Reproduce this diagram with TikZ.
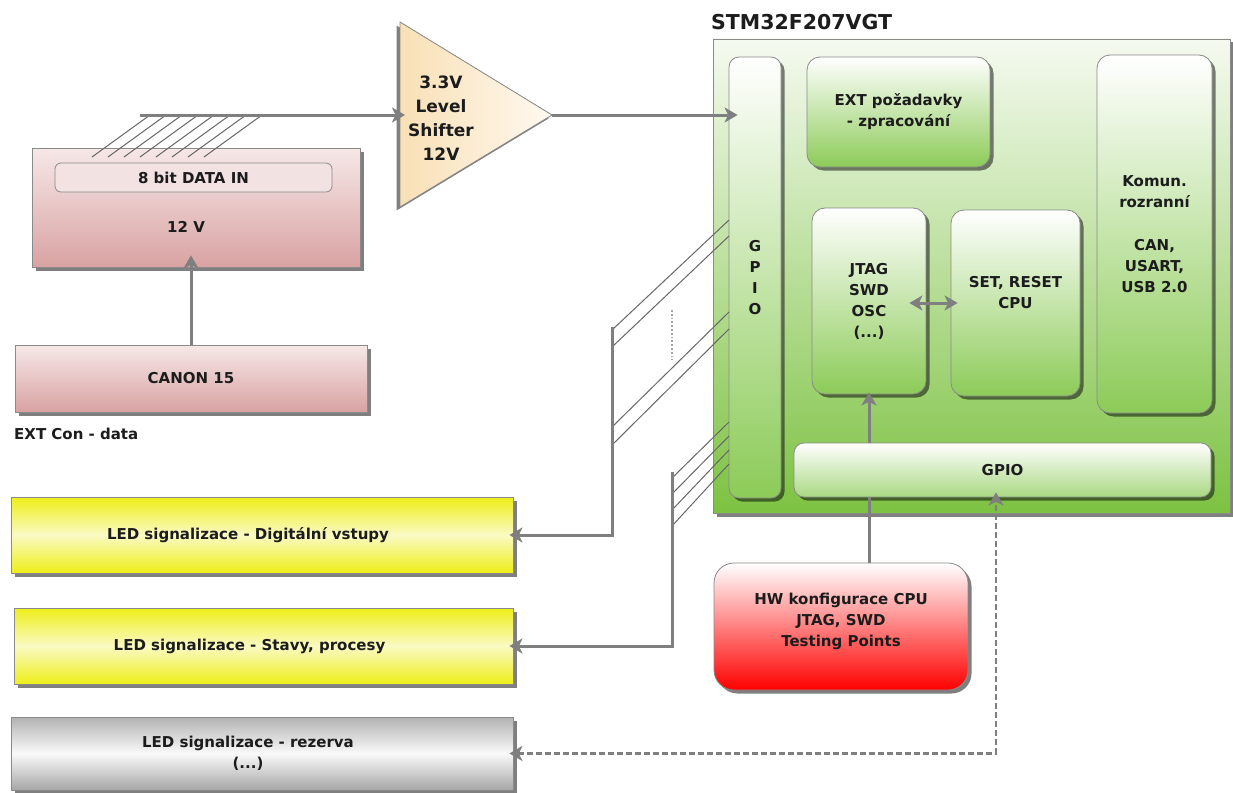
\documentclass[tikz,border=0pt]{standalone}
\usepackage{fontspec}
\setmainfont{DejaVu Sans}
\usetikzlibrary{arrows.meta,shadows,calc}
\definecolor{conng}{HTML}{7F7F7F}
\definecolor{boxgray}{HTML}{8A8A8A}
\definecolor{txt}{HTML}{1C1C1C}
\definecolor{pinktop}{HTML}{F6E8E8}
\definecolor{pinkbot}{HTML}{D9A2A2}
\definecolor{pinkin}{HTML}{F3E2E2}
\definecolor{greenbg}{HTML}{7DC242}
\definecolor{greentop}{HTML}{F5FAF0}
\definecolor{greenin}{HTML}{8CCB58}
\definecolor{greenlt}{HTML}{A9D883}
\definecolor{ledy}{HTML}{EEEE18}
\definecolor{ledlt}{HTML}{FAFAC4}
\definecolor{graytop}{HTML}{B2B2B2}
\definecolor{graybot}{HTML}{A6A6A6}
\definecolor{triL}{HTML}{F8E0B6}
\definecolor{triR}{HTML}{FFF9F0}
\definecolor{hatchg}{HTML}{666666}
\newcommand\lbl{\bfseries\fontsize{15}{21}\selectfont}
\tikzset{
  base/.style={draw=boxgray, line width=0.8pt, font=\lbl, text=txt, align=center, inner sep=0pt},
  shad/.style={drop shadow={shadow xshift=3.5pt, shadow yshift=-3.5pt, opacity=0.5, fill=black}},
  pinkbox/.style={base, shad, top color=pinktop, bottom color=pinkbot},
  greenbox/.style={base, shad, rounded corners=13pt, top color=white, bottom color=greenin},
  ledbox/.style={base, shad, top color=ledy, bottom color=ledy, middle color=ledlt},
  graybox/.style={base, shad, top color=graytop, bottom color=graybot, middle color=white!96!gray},
  >={Stealth[length=13pt,width=15pt,inset=3.5pt]},
  conn/.style={draw=conng, line width=3pt, ->},
  hatch/.style={draw=hatchg, line width=1pt},
}
\begin{document}
\begin{tikzpicture}[x=1pt,y=-1pt]
\useasboundingbox (0,0) rectangle (1233,792);

% ---- STM32 block
\node[base, shad, top color=greentop, bottom color=greenbg, minimum width=517pt, minimum height=474pt] (mcu) at (971.5,276) {};
\node[font=\bfseries\fontsize{20.5}{24}\selectfont, text=txt, anchor=west, inner sep=0pt] (title) at (711,22) {STM32F207VGT};

\node[greenbox, rounded corners=10pt, minimum width=52pt, minimum height=441pt] (gpioV) at (755,277.5) {G\\P\\I\\O};
\node[greenbox, minimum width=183pt, minimum height=110pt] (ext) at (898.5,112) {EXT požadavky\\- zpracování};
\node[greenbox, minimum width=115pt, minimum height=358pt] (komun) at (1154.5,234) {Komun.\\rozranní\\[22pt]CAN,\\USART,\\USB 2.0};
\node[greenbox, minimum width=114pt, minimum height=186pt] (jtag) at (869,301) {JTAG\\SWD\\OSC\\(...)};
\node[greenbox, minimum width=129pt, minimum height=186pt] (set) at (1015.5,303) {SET, RESET\\CPU\\[0pt]};
\node[greenbox, rounded corners=10pt, bottom color=greenlt, minimum width=417pt, minimum height=54pt] (gpioH) at (1002.5,470) {GPIO};

% ---- HW config
\node[base, shad, rounded corners=20pt, top color=white, bottom color=red, minimum width=254pt, minimum height=127pt] (hw) at (841,626.5) {HW konfigurace CPU\\JTAG, SWD\\Testing Points\\[-8pt]};

% ---- LED boxes
\node[ledbox, minimum width=502pt, minimum height=76pt] (led1) at (262,535) {LED signalizace - Digitální vstupy\hspace*{28pt}};
\node[ledbox, minimum width=499pt, minimum height=76pt] (led2) at (263.5,646) {LED signalizace - Stavy, procesy\hspace*{28pt}};
\node[graybox, minimum width=502pt, minimum height=73pt] (led3) at (262,753.5) {LED signalizace - rezerva\hspace*{28pt}\\(...)\hspace*{28pt}};

% ---- EXT connector side
\node[pinkbox, minimum width=328pt, minimum height=119pt] (box12V) at (196,207.5) {};
\node[base, fill=pinkin, rounded corners=6pt, minimum width=277pt, minimum height=29pt] (data8) at (193.5,177.5) {8 bit DATA IN};
\node[font=\lbl, text=txt, inner sep=0pt] (v12) at (186,227) {12 V};
\node[pinkbox, minimum width=352pt, minimum height=67pt] (canon) at (191,378.5) {CANON 15};
\node[font=\lbl, text=txt, anchor=west, inner sep=0pt] (extcon) at (14,434) {EXT Con - data};

% ---- level shifter
\coordinate (trin) at (400,115);
\coordinate (trout) at (552,115);
\filldraw[draw=boxgray, line width=0.8pt, left color=triL, right color=triR,
  drop shadow={shadow xshift=-3.5pt, shadow yshift=-3.5pt, opacity=0.5, fill=black}]
  (400,22) -- (trout) -- (400,207) -- cycle;
\node[font=\bfseries\fontsize{17}{24}\selectfont, text=txt, align=center, inner sep=0pt] (shiftlbl) at (441,118) {3.3V\\Level\\Shifter\\12V};

% ---- input data bus
\coordinate (busstart) at (140,115);
\foreach \i in {0,...,7} \draw[hatch] ({150+16*\i},115) -- ({92+16*\i},157);
\draw[conn] (busstart) -- ($(trin)+(5,0)$);
\draw[conn] (trout) -- ($(trout -| gpioV.west)+(9,0)$);
\draw[conn] (canon.north) -- ($(canon.north |- box12V.south)+(0,-12)$);

% ---- GPIO bus 1 -> LED 1
\coordinate (b1top) at (612,327);
\draw[hatch] (612,330) -- (729,220);
\draw[hatch] (612,347) -- (729,236);
\draw[hatch] (612,427) -- (729,312);
\draw[hatch] (612,445) -- (729,329);
\draw[conng!70, line width=1.8pt, dotted] (672,310) -- (672,360);
\draw[conn] (b1top) |- ($(led1.east)+(-4,0)$);

% ---- GPIO bus 2 -> LED 2
\coordinate (b2top) at (672,472);
\foreach \i in {0,...,3} \draw[hatch] (672,{478+16*\i}) -- (729,{422+14*\i});
\draw[conn] (b2top) |- ($(led2.east)+(-4,0)$);

% ---- internal connectors
\draw[conn, -] (jtag.south |- hw.north) -- (jtag.south |- gpioH.south);
\draw[conn] (jtag.south |- gpioH.north) -- ($(jtag.south)+(0,-2)$);
\draw[conn, <->] ($(jtag.east)+(-17,2)$) -- ($(set.west)+(7,0)$);
\draw[conn, <->, line width=2.6pt, dash pattern=on 6pt off 3pt] ($(led3.east)+(-4,0)$) -| ($(gpioH.south)+(-6.5,-5)$);
\end{tikzpicture}
\end{document}
